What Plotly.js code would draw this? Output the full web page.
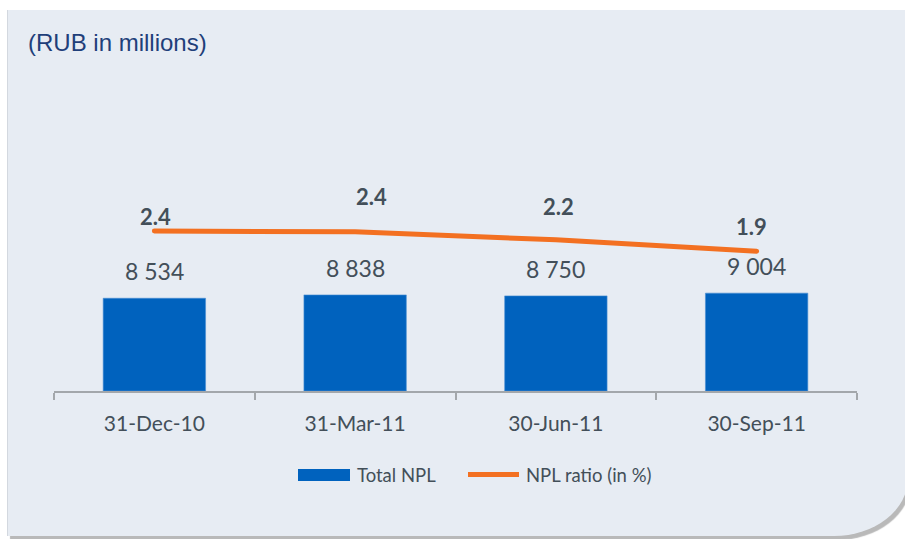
<!DOCTYPE html>
<html>
<head>
<meta charset="utf-8">
<script src="https://cdn.plot.ly/plotly-3.0.1.min.js"></script>
<style>
  html, body { margin: 0; padding: 0; background: #ffffff; width: 905px; height: 539px; overflow: hidden; }
  #panel {
    position: absolute; left: 7px; top: 10px; width: 900px; height: 526px;
    background: #E7ECF3; border-left: 1px solid #d3d8df;
    border-bottom-right-radius: 74px 58px;
    box-shadow: 3px 4px 1px #b9b9b9;
  }
  #chart { position: absolute; left: 0; top: 0; width: 905px; height: 539px; }
  #chart .js-line { stroke-linecap: round; stroke-linejoin: round; }
</style>
</head>
<body>
<div id="panel"></div>
<div id="chart"></div>
<script>
// ---- data ----
const categories = ["31-Dec-10", "31-Mar-11", "30-Jun-11", "30-Sep-11"];
const totalNPL = [8534, 8838, 8750, 9004];
const nplRatio = [2.42, 2.40, 2.21, 1.94];
const nplLabels = ["8 534", "8 838", "8 750", "9 004"];
const ratioLabels = ["2.4", "2.4", "2.2", "1.9"];
const seriesNames = ["Total NPL", "NPL ratio (in %)"];

// ---- style ----
const W = 905, H = 539;
const M = { l: 54, r: 48, t: 100, b: 148 };
const PW = W - M.l - M.r, PH = H - M.t - M.b;
const px2x = p => (p - M.l) / PW;
const px2y = p => (H - M.b - p) / PH;
const textGray = "#434f59";
const blue = "#0062BE";
const orange = "#F37021";
const font = "Lato, 'Open Sans', sans-serif";
const ratioShift = [[1, 15], [16, 35], [3, 33], [-5, 25]];

const traces = [
  {
    type: "bar", name: seriesNames[0], x: categories, y: totalNPL,
    width: 0.51,
    marker: { color: blue, line: { color: "#4a8fd4", width: 0.6 } },
    hoverinfo: "skip", showlegend: false
  },
  {
    type: "scatter", mode: "lines", name: seriesNames[1], x: categories, y: nplRatio,
    yaxis: "y2",
    line: { color: orange, width: 5 },
    hoverinfo: "skip", showlegend: false
  }
];

const annotations = [];
categories.forEach((c, i) => {
  annotations.push({
    x: c, y: totalNPL[i], xref: "x", yref: "y", text: nplLabels[i],
    showarrow: false, xanchor: "center", yanchor: "middle", yshift: 27,
    font: { family: font, size: 23, color: textGray }
  });
  annotations.push({
    x: c, y: nplRatio[i], xref: "x", yref: "y2", text: "<b>" + ratioLabels[i] + "</b>",
    showarrow: false, xanchor: "center", yanchor: "middle",
    xshift: ratioShift[i][0], yshift: ratioShift[i][1],
    font: { family: font, size: 22, color: textGray }
  });
});
// custom legend texts
annotations.push({
  x: px2x(355), y: px2y(475), xref: "paper", yref: "paper", text: seriesNames[0],
  showarrow: false, xanchor: "left", yanchor: "middle",
  font: { family: font, size: 18.5, color: textGray }
});
annotations.push({
  x: px2x(524), y: px2y(475), xref: "paper", yref: "paper", text: seriesNames[1],
  showarrow: false, xanchor: "left", yanchor: "middle",
  font: { family: font, size: 18.5, color: textGray }
});

const shapes = [
  { type: "rect", xref: "paper", yref: "paper",
    x0: px2x(298), x1: px2x(350), y0: px2y(469), y1: px2y(481),
    fillcolor: blue, line: { width: 0 } },
  { type: "line", xref: "paper", yref: "paper",
    x0: px2x(468), x1: px2x(519), y0: px2y(474.5), y1: px2y(474.5),
    line: { color: orange, width: 5 } }
];

const layout = {
  width: W, height: H,
  margin: M,
  paper_bgcolor: "rgba(0,0,0,0)",
  plot_bgcolor: "rgba(0,0,0,0)",
  showlegend: false,
  title: {
    text: "(RUB in millions)",
    x: 28 / W, xanchor: "left", xref: "container",
    y: 1 - 43 / H, yanchor: "middle", yref: "container",
    font: { family: "'Liberation Sans', Arial, sans-serif", size: 24, color: "#1f3f7a" }
  },
  xaxis: {
    type: "category",
    showgrid: false, zeroline: false,
    showline: true, linecolor: "#a3a7ab", linewidth: 2,
    ticks: "outside", tickson: "boundaries", ticklen: 7, tickcolor: "#a3a7ab", tickwidth: 2,
    tickfont: { family: font, size: 21, color: textGray },
    ticklabelstandoff: 13
  },
  yaxis: {
    range: [0, PH * 92], visible: false, showgrid: false, zeroline: false
  },
  yaxis2: {
    overlaying: "y", side: "right",
    range: [2.42 - 160 / 42, 2.42 + (PH - 160) / 42],
    visible: false, showgrid: false, zeroline: false
  },
  annotations: annotations,
  shapes: shapes
};

Plotly.newPlot("chart", traces, layout, { displayModeBar: false, staticPlot: true });
</script>
</body>
</html>
